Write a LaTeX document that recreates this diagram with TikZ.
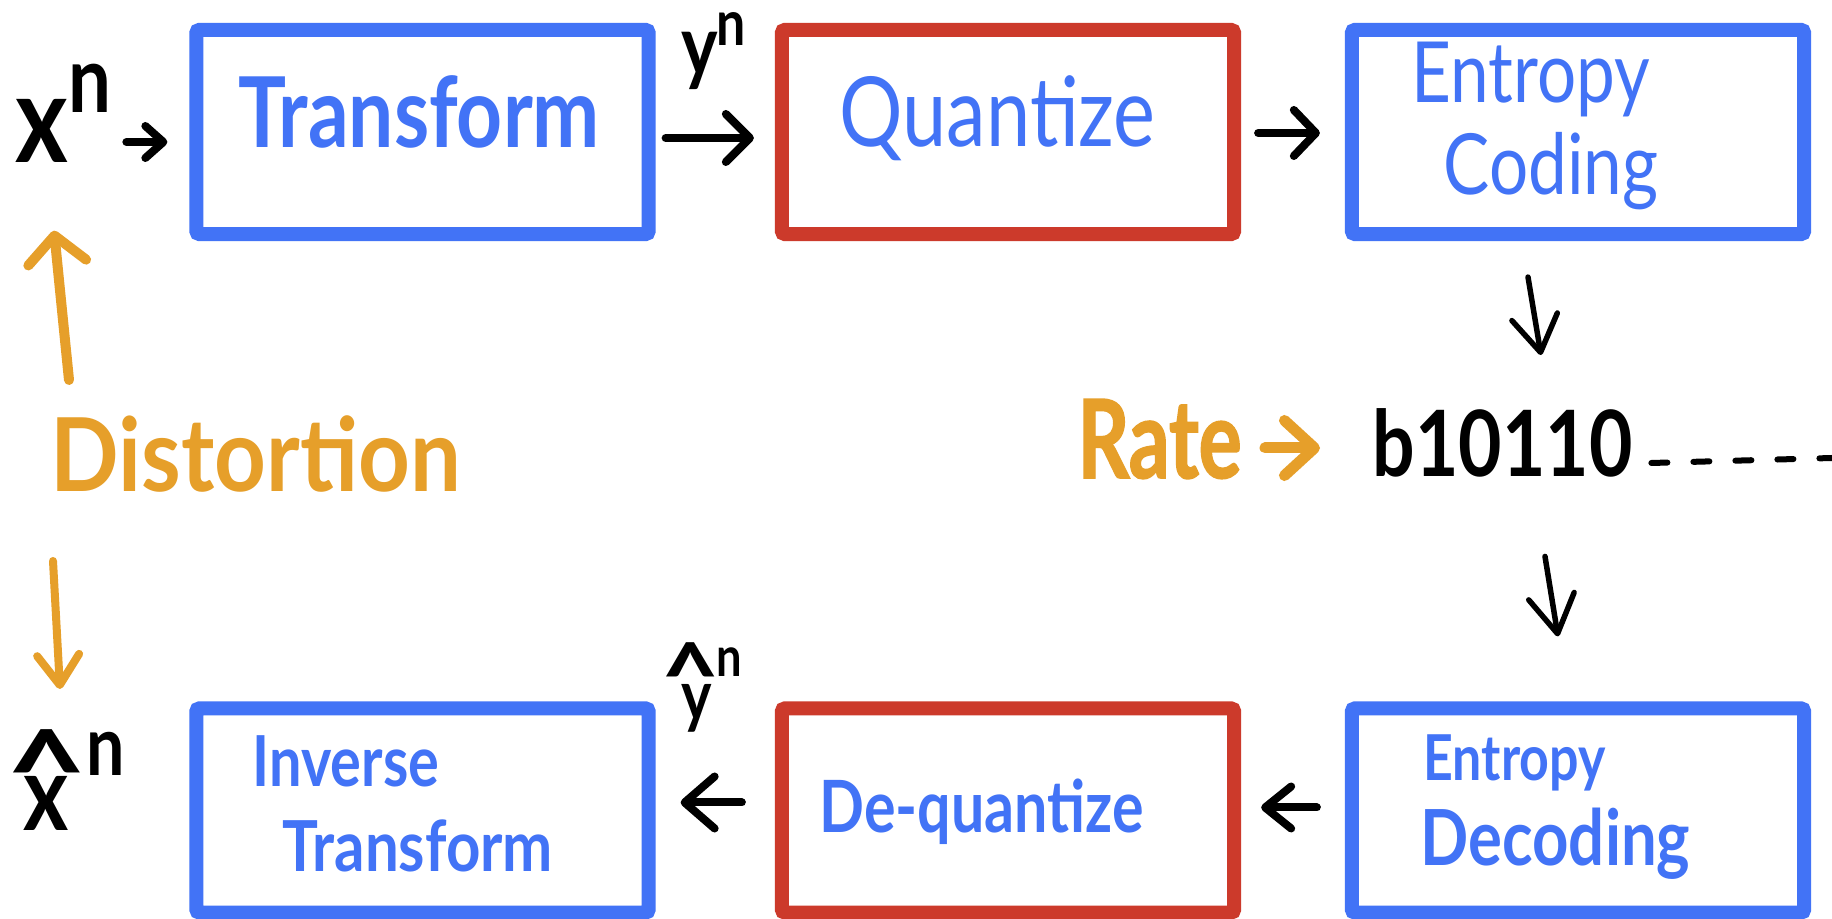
\documentclass[tikz,border=0pt]{standalone}
\usepackage{fontspec}
\setmainfont{Lato}
\newfontfamily\hand[FakeStretch=0.82]{Lato}
\newfontfamily\handheavy[FakeStretch=0.82,FakeBold=1.5]{Lato}
\usetikzlibrary{arrows.meta,calc}
\definecolor{myblue}{RGB}{66,115,246}
\definecolor{myred}{RGB}{204,58,43}
\definecolor{myorange}{RGB}{230,159,42}
\newcommand\hsz[1]{\fontsize{#1}{#1}\selectfont}
\begin{document}
\begin{tikzpicture}[x=0.01cm,y=-0.01cm,
  box/.style={draw, line width=0.14cm, rounded corners=0.03cm, minimum width=4.52cm, minimum height=2.04cm, inner sep=0},
  bbox/.style={box, draw=myblue},
  rbox/.style={box, draw=myred},
  txt/.style={inner sep=0, anchor=base west},
  btxt/.style={txt, text=myblue},
  otxt/.style={txt, text=myorange},
  harr/.style n args={3}{line width=#1, line cap=round, line join=round, -{Straight Barb[round,length=#2,width=#3]}},
  oarr/.style n args={3}{harr={#1}{#2}{#3}, draw=myorange}
]
\useasboundingbox (0,0) rectangle (1832,919);
\fill[white] (0,0) rectangle (1832,919);

% boxes
\node[bbox] (T)  at (422.5,132) {};
\node[rbox] (Q)  at (1008,132) {};
\node[bbox] (E)  at (1578,132) {};
\node[bbox] (I)  at (422.5,810.5) {};
\node[rbox] (D)  at (1008,810.5) {};
\node[bbox] (ED) at (1578,810.5) {};

% box texts
\node[btxt, font=\hand\bfseries\hsz{27.8pt}] (tT) at (238,148) {Transform};
\node[btxt, font=\hand\hsz{27.5pt}] (tQ) at (839,147) {Quantize};
\node[btxt, font=\hand\hsz{24pt}] (tE1) at (1411,103) {Entropy};
\node[btxt, font=\hand\hsz{24pt}] (tE2) at (1443,195) {Coding};
\node[btxt, font=\hand\bfseries\hsz{20pt}] (tI1) at (252,787) {Inverse};
\node[btxt, font=\hand\bfseries\hsz{20pt}] (tI2) at (282,872) {\scalebox{1.04}[1]{Transform}};
\node[btxt, font=\hand\bfseries\hsz{20.5pt}] (tD) at (819,833) {De-quantize};
\node[btxt, font=\hand\bfseries\hsz{18pt}] (tED1) at (1423,781) {Entropy};
\node[btxt, font=\hand\bfseries\hsz{22pt}] (tED2) at (1420,866) {Decoding};

% variables
\node[txt, font=\hand\bfseries\hsz{35pt}] (xa) at (15,163) {x};
\node[txt, font=\hand\bfseries\hsz{26.4pt}] (xan) at (68,113) {n};
\node[txt, font=\hand\bfseries\hsz{24pt}] (ya) at (681,76) {y};
\node[txt, font=\hand\bfseries\hsz{18pt}] (yan) at (716,46) {n};
\node[txt, font=\hand\bfseries\hsz{30pt}] (xb) at (23,831) {x};
\node[inner sep=0, anchor=north, font=\hand\bfseries\hsz{23pt}] (xbh) at (47,729) {\scalebox{2.1}[1.4]{\textasciicircum}};
\node[txt, font=\hand\bfseries\hsz{23.6pt}] (xbn) at (86,776) {n};
\node[txt, font=\hand\bfseries\hsz{20pt}] (yb) at (681,721) {y};
\node[inner sep=0, anchor=north, font=\hand\bfseries\hsz{17pt}] (ybh) at (691,642) {\scalebox{2.05}[1.5]{\textasciicircum}};
\node[txt, font=\hand\bfseries\hsz{15.7pt}] (ybn) at (716,677) {n};

% middle row
\node[otxt, font=\hand\bfseries\hsz{29pt}] (dist) at (50,492) {\scalebox{1.08}[1]{Distortion}};
\node[otxt, font=\handheavy\bfseries\hsz{31pt}] (rate) at (1077,478) {\scalebox{0.9}[1]{Rate}};
\node[txt, font=\hand\bfseries\hsz{26pt}] (bits) at (1372,477) {b10110};
\coordinate (bitsend) at (1832,458);

% arrows
\draw[harr={0.08cm}{0.18cm}{0.32cm}] ($(T.west)+(-63,10)$) -- ($(T.west)+(-22,10)$);
\draw[harr={0.08cm}{0.24cm}{0.48cm}] ($(T.east)+(10,6)$) -- ($(Q.west)+(-21,6)$);
\draw[harr={0.08cm}{0.22cm}{0.46cm}] ($(Q.east)+(17,1)$) -- ($(E.west)+(-25,1)$);
\draw[harr={0.055cm}{0.36cm}{0.46cm}] ($(E.south)+(-50,36)$) -- ($(E.south)+(-37,114)$);
\draw[harr={0.055cm}{0.38cm}{0.46cm}] ($(ED.north)+(-33,-145)$) -- ($(ED.north)+(-20,-65)$);
\draw[harr={0.08cm}{0.26cm}{0.42cm}] ($(ED.west)+(-28,-3)$) -- ($(D.east)+(20,-3)$);
\draw[harr={0.08cm}{0.30cm}{0.52cm}] ($(D.west)+(-33,-8)$) -- ($(I.east)+(25,-8)$);
\draw[oarr={0.10cm}{0.27cm}{0.58cm}] ($(dist.base west)+(19,-112)$) -- ($(xa.south)+(12,67)$);
\draw[oarr={0.08cm}{0.30cm}{0.42cm}] ($(dist.base west)+(3,69)$) -- ($(dist.base west)+(10,197)$);
\draw[oarr={0.11cm}{0.30cm}{0.55cm}] ($(bits.base west)+(-107,-29)$) -- ($(bits.base west)+(-52,-29)$);
\draw[line width=0.06cm, line cap=round, dash pattern=on 0.16cm off 0.26cm] ($(bits.base east)+(18,-14)$) -- (bitsend);
\end{tikzpicture}
\end{document}
